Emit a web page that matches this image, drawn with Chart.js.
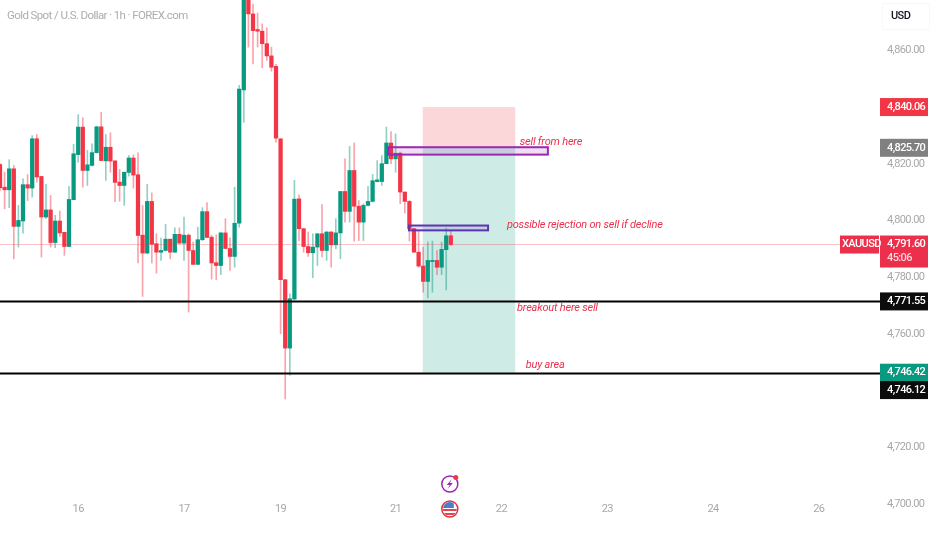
<!DOCTYPE html>
<html>
<head>
<meta charset="utf-8">
<title>XAUUSD 1h</title>
<script src="https://cdn.jsdelivr.net/npm/chart.js@4"></script>
<style>
    html, body { margin: 0; padding: 0; background: #fff; }
    canvas { display: block; }
</style>
</head>
<body>
<canvas id="priceChart" width="932" height="550"></canvas>
<script>
// Candle values
const opens = [4819.8,4811.8,4810.9,4818.3,4798.0,4799.9,4812.7,4811.5,4828.9,4815.6,4801.3,4803.8,4792.3,4799.9,4795.9,4790.9,4807.4,4823.3,4833.0,4817.7,4819.5,4824.0,4833.1,4821.1,4825.9,4821.1,4813.6,4812.4,4817.0,4822.1,4816.2,4794.9,4788.6,4806.8,4791.9,4788.9,4789.5,4793.5,4788.9,4795.2,4792.1,4794.9,4789.5,4784.6,4793.3,4803.2,4794.2,4785.2,4784.2,4795.7,4790.2,4787.4,4799.1,4846.1,4880,4872.9,4867.4,4866.8,4862.4,4858.1,4854.4,4828.9,4779.2,4755.1,4772.4,4807.7,4797.2,4790.9,4788.7,4790.7,4795.4,4789.5,4796.0,4791.5,4795.7,4810.3,4803.3,4817.7,4805.1,4799.5,4805.4,4806.8,4813.8,4813.8,4820.1,4827.4,4821.8,4823.8,4810.1,4806.8,4797.2,4788.9,4784.0,4778.6,4785.6,4786.0,4783.6,4789.8,4794.7];
const highs = [4820.1,4817.1,4821.5,4819.5,4805.4,4814.8,4816.3,4830.0,4830.4,4815.6,4812.8,4808.9,4801.9,4803.4,4795.9,4812.1,4826.9,4837.4,4836.3,4824.8,4827.1,4833.3,4838.2,4830.4,4831.0,4821.1,4818.1,4817.1,4823.0,4823.2,4823.9,4805.4,4812.8,4809.8,4795.4,4793.9,4798.7,4793.5,4797.5,4797.5,4801.3,4795.4,4792.5,4797.7,4804.6,4806.4,4794.8,4795.0,4796.0,4800.7,4794.0,4811.8,4847.7,4882,4882,4876.4,4873.2,4869.4,4868.0,4861.2,4855.1,4828.9,4779.2,4774.2,4814.2,4809.1,4797.2,4796.0,4795.4,4795.4,4805.7,4796.3,4796.3,4800.7,4810.3,4821.8,4826.2,4827.4,4807.1,4806.0,4812.1,4816.3,4821.2,4823.0,4833.0,4831.4,4830.6,4824.2,4810.1,4807.1,4797.2,4796.6,4790.7,4792.5,4792.8,4789.5,4792.5,4797.4,4796.6];
const lows = [4810.7,4804.2,4804.6,4786.6,4790.7,4795.6,4807.1,4808.3,4813.6,4787.2,4800.7,4790.7,4790.5,4794.4,4787.8,4790.9,4807.4,4820.6,4811.8,4812.4,4819.2,4823.8,4821.2,4814.2,4817.1,4806.7,4806.9,4805.4,4815.7,4811.5,4785.1,4773.3,4788.3,4785.1,4781.5,4786.0,4789.3,4786.6,4788.9,4791.9,4786.0,4767.8,4784.6,4784.6,4793.0,4794.0,4779.4,4779.2,4781.0,4790.1,4782.5,4783.6,4797.7,4834.7,4861.2,4855.3,4861.2,4853.9,4856.5,4852.7,4827.7,4760.2,4737.2,4745.5,4772.1,4793.0,4788.9,4787.4,4779.9,4784.2,4787.2,4786.0,4783.6,4790.1,4786.6,4799.5,4799.5,4792.8,4793.0,4793.0,4805.1,4806.6,4813.6,4812.4,4820.1,4820.1,4817.1,4806.0,4802.7,4792.8,4788.9,4783.6,4774.8,4772.8,4774.8,4781.0,4781.0,4775.6,4791.2];
const closes = [4811.6,4810.9,4818.3,4798.0,4800.1,4812.7,4811.5,4828.9,4815.4,4801.3,4803.8,4792.3,4799.9,4795.7,4790.9,4807.5,4823.6,4833.0,4817.7,4819.7,4824.0,4833.1,4821.2,4825.9,4821.0,4813.5,4812.4,4817.1,4822.1,4816.1,4794.8,4788.6,4806.8,4791.7,4788.9,4789.5,4793.5,4788.9,4795.2,4792.1,4794.9,4789.5,4784.6,4793.3,4803.2,4794.1,4785.1,4784.2,4795.7,4790.2,4787.4,4799.1,4846.4,4880,4872.9,4867.0,4866.8,4862.4,4858.1,4854.1,4829.1,4779.2,4755.1,4772.5,4807.6,4797.2,4790.9,4788.7,4790.7,4795.4,4789.5,4796.0,4791.5,4795.7,4810.3,4803.3,4817.7,4805.1,4799.5,4805.4,4806.8,4814.1,4814.4,4820.1,4827.4,4821.8,4823.8,4810.1,4806.8,4797.2,4788.9,4784.0,4778.6,4786.0,4786.0,4783.6,4789.9,4794.7,4791.6];

// Axis ticks
const dayTicks = [17, 40, 61, 86, 109, 132, 155, 178];
const dayLabels = ['16', '17', '19', '21', '22', '23', '24', '26'];
const priceTicks = [4700, 4720, 4740, 4760, 4780, 4800, 4820, 4840, 4860];

// Levels and drawings on the chart
const lastPrice = 4791.60;
const blackLevels = [4771.55, 4746.12];
const zoneBars = [91.9, 112];
const zoneTop = 4840.06;
const zoneEntry = 4825.70;
const zoneBottom = 4746.42;
const purpleBoxes = [
    { from: 84.4, to: 119.1, top: 4825.9, bottom: 4823.3, border: '#9c27b0', fill: 'rgba(156, 39, 176, 0.15)' },
    { from: 88.9, to: 106.1, top: 4798.3, bottom: 4796.6, border: '#5e35b1', fill: 'rgba(103, 58, 183, 0.15)' }
];
const notes = [
    { text: 'sell from here', bar: 113.0, price: 4827.7 },
    { text: 'possible rejection on sell if decline', bar: 110.2, price: 4798.3 },
    { text: 'breakout here sell', bar: 112.4, price: 4769.3 },
    { text: 'buy area', bar: 114.3, price: 4749.1 }
];
// The last tag sits lower than its price so that it clears the green one
const priceTags = [
    { text: '4,840.06', price: 4840.06, bg: '#f23645', color: '#fff' },
    { text: '4,825.70', price: 4825.70, bg: '#808080', color: '#fff' },
    { text: '4,771.55', price: 4771.55, bg: '#0c0c0c', color: '#fff' },
    { text: '4,746.42', price: 4746.42, bg: '#089981', color: '#fff' },
    { text: '4,746.12', price: 4740.3, bg: '#0c0c0c', color: '#fff' }
];

const RED = '#f23645';
const GREEN = '#089981';
const FONT = 'Roboto, sans-serif';
const lastBar = 191.3;

const candleIdx = closes.map((c, i) => i);
const wickColors = candleIdx.map(i => closes[i] >= opens[i] ? 'rgba(8, 153, 129, 0.45)' : 'rgba(242, 54, 69, 0.45)');
const bodyColors = candleIdx.map(i => closes[i] >= opens[i] ? GREEN : RED);

function levelLine(price, color, width) {
    return {
        type: 'line',
        data: [{ x: 0, y: price }, { x: lastBar, y: price }],
        borderColor: color,
        borderWidth: width,
        pointRadius: 0,
        order: 0
    };
}

// Zones go under the candles, boxes, notes and tags on top
const drawings = {
    id: 'drawings',
    beforeDraw(chart) {
        // the reference text is narrow, none of the installed fonts is
        chart.ctx.letterSpacing = '-0.6px';
    },
    beforeDatasetsDraw(chart) {
        const { ctx, scales: { x, y } } = chart;
        const left = x.getPixelForValue(zoneBars[0]);
        const width = x.getPixelForValue(zoneBars[1]) - left;
        ctx.save();
        ctx.fillStyle = 'rgba(242, 54, 69, 0.2)';
        ctx.fillRect(left, y.getPixelForValue(zoneTop), width, y.getPixelForValue(zoneEntry) - y.getPixelForValue(zoneTop));
        ctx.fillStyle = 'rgba(8, 153, 129, 0.2)';
        ctx.fillRect(left, y.getPixelForValue(zoneEntry), width, y.getPixelForValue(zoneBottom) - y.getPixelForValue(zoneEntry));
        ctx.restore();
    },
    afterDatasetsDraw(chart) {
        const { ctx, scales: { x, y } } = chart;
        ctx.save();
        purpleBoxes.forEach(b => {
            const bx = x.getPixelForValue(b.from);
            const by = y.getPixelForValue(b.top);
            const bw = x.getPixelForValue(b.to) - bx;
            const bh = y.getPixelForValue(b.bottom) - by;
            ctx.fillStyle = b.fill;
            ctx.fillRect(bx, by, bw, bh);
            ctx.strokeStyle = b.border;
            ctx.lineWidth = 2;
            ctx.strokeRect(bx, by, bw, bh);
        });
        ctx.letterSpacing = '-0.2px';
        ctx.font = 'italic 11px ' + FONT;
        ctx.fillStyle = '#ec2f4b';
        ctx.textBaseline = 'middle';
        notes.forEach(n => ctx.fillText(n.text, x.getPixelForValue(n.bar), y.getPixelForValue(n.price)));
        ctx.restore();
    },
    afterDraw(chart) {
        const { ctx, scales: { x, y } } = chart;
        ctx.save();

        ctx.font = '11.5px ' + FONT;
        ctx.fillStyle = '#adadad';
        ctx.textBaseline = 'middle';
        ctx.fillText('Gold Spot / U.S. Dollar · 1h · FOREX.com', 7, 16);

        ctx.strokeStyle = '#f8f8f8';
        ctx.lineWidth = 1;
        ctx.strokeRect(882.5, 3.5, 47, 26);
        ctx.font = '500 11px ' + FONT;
        ctx.fillStyle = '#131722';
        ctx.fillText('USD', 891, 16);

        // Price tags on the right axis
        priceTags.forEach(t => {
            const py = y.getPixelForValue(t.price);
            ctx.fillStyle = t.bg;
            ctx.fillRect(880, py - 9, 48, 18);
            ctx.fillStyle = t.color;
            ctx.fillText(t.text, 887, py);
        });

        const lastY = y.getPixelForValue(lastPrice);
        ctx.fillStyle = '#ec2f4b';
        ctx.fillRect(840, lastY - 9, 39, 18);
        ctx.fillRect(880, lastY - 9, 48, 32);
        ctx.fillStyle = '#fff';
        ctx.fillText('XAUUSD', 842, lastY);
        ctx.fillText('4,791.60', 887, lastY);
        ctx.fillStyle = '#fbd5da';
        ctx.fillText('45:06', 887, lastY + 14);

        // Event marks under the last candle
        const ix = x.getPixelForValue(opens.length - 1) - 1;
        ctx.strokeStyle = '#9c27b0';
        ctx.lineWidth = 1.5;
        ctx.beginPath();
        ctx.arc(ix, 484, 8, 0, Math.PI * 2);
        ctx.stroke();
        ctx.fillStyle = '#9c27b0';
        ctx.beginPath();
        ctx.moveTo(ix + 2, 479);
        ctx.lineTo(ix - 3, 485);
        ctx.lineTo(ix, 485);
        ctx.lineTo(ix - 2, 489);
        ctx.lineTo(ix + 3, 483);
        ctx.lineTo(ix, 483);
        ctx.closePath();
        ctx.fill();
        ctx.fillStyle = RED;
        ctx.beginPath();
        ctx.arc(ix + 6, 477.5, 2.5, 0, Math.PI * 2);
        ctx.fill();

        ctx.save();
        ctx.beginPath();
        ctx.arc(ix, 509, 7, 0, Math.PI * 2);
        ctx.clip();
        ctx.fillStyle = '#fff';
        ctx.fillRect(ix - 8, 501, 16, 16);
        ctx.fillStyle = '#e8404f';
        ctx.fillRect(ix - 8, 509, 16, 2);
        ctx.fillRect(ix - 8, 513, 16, 2);
        ctx.fillStyle = '#4a7fd0';
        ctx.fillRect(ix - 8, 501, 12, 7);
        ctx.restore();
        ctx.strokeStyle = '#e0323f';
        ctx.lineWidth = 1.5;
        ctx.beginPath();
        ctx.arc(ix, 509, 8, 0, Math.PI * 2);
        ctx.stroke();

        ctx.restore();
    }
};

new Chart(document.getElementById('priceChart'), {
    type: 'bar',
    data: {
        datasets: [
            levelLine(lastPrice, 'rgba(242, 54, 69, 0.3)', 1),
            levelLine(blackLevels[0], '#000', 2),
            levelLine(blackLevels[1], '#000', 2),
            {
                data: candleIdx.map(i => ({ x: i, y: [opens[i], closes[i]] })),
                backgroundColor: bodyColors,
                barThickness: 3.6,
                grouped: false,
                order: 1
            },
            {
                data: candleIdx.map(i => ({ x: i, y: [lows[i], highs[i]] })),
                backgroundColor: wickColors,
                barThickness: 1,
                grouped: false,
                order: 2
            }
        ]
    },
    options: {
        responsive: false,
        animation: false,
        layout: { padding: 0 },
        plugins: { legend: { display: false }, tooltip: { enabled: false } },
        scales: {
            x: {
                type: 'linear',
                offset: false,
                min: 0,
                max: lastBar,
                grid: { display: false, drawTicks: false },
                border: { display: false },
                afterBuildTicks: scale => { scale.ticks = dayTicks.map(v => ({ value: v })); },
                afterFit: scale => {
                    scale.height = 30;
                    scale.paddingLeft = 0;
                    scale.paddingRight = 0;
                },
                ticks: {
                    mirror: true,
                    padding: 4,
                    autoSkip: false,
                    maxRotation: 0,
                    color: '#a8a8a8',
                    font: { family: FONT, size: 11 },
                    callback: v => dayLabels[dayTicks.indexOf(v)]
                }
            },
            y: {
                position: 'right',
                min: 4694.5,
                max: 4877.8,
                grid: { display: false, drawTicks: false },
                border: { display: false },
                afterBuildTicks: scale => { scale.ticks = priceTicks.map(v => ({ value: v })); },
                afterFit: scale => {
                    scale.width = 52;
                    scale.paddingTop = 0;
                    scale.paddingBottom = 0;
                },
                ticks: {
                    padding: 7,
                    color: '#a8a8a8',
                    font: { family: FONT, size: 11 },
                    callback: v => v.toLocaleString('en-US', { minimumFractionDigits: 2 })
                }
            }
        }
    },
    plugins: [drawings]
});
</script>
</body>
</html>
